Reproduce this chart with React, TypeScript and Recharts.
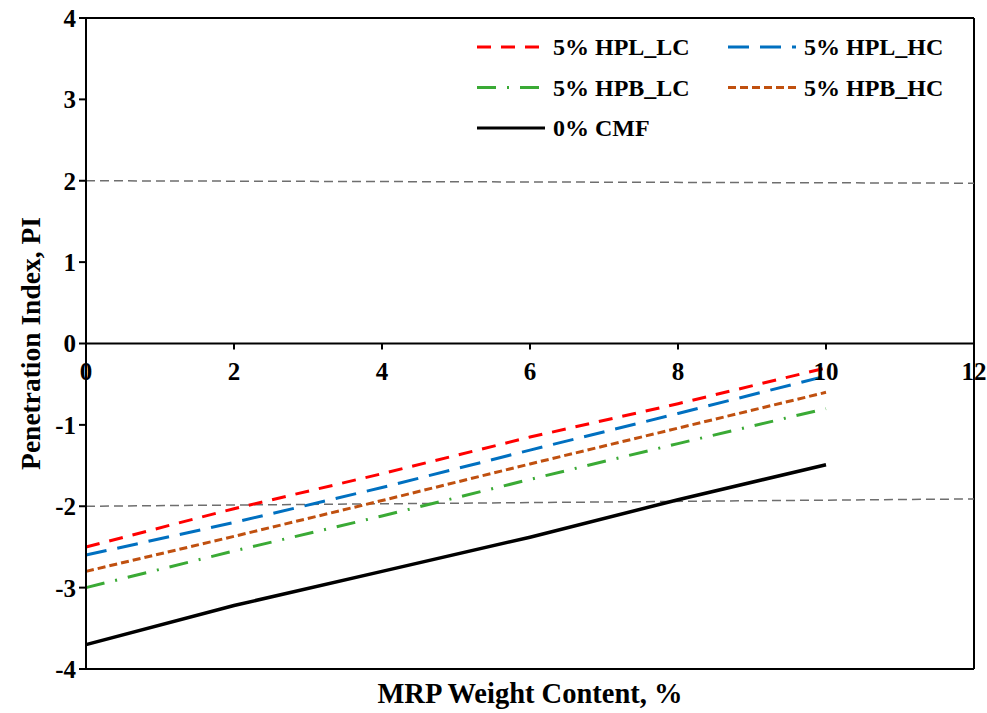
import React from "react";
import { LineChart, Line, XAxis, YAxis, ReferenceLine } from "recharts";

// ---- data ----
const mrpContent = [0, 2, 4, 6, 8, 10];
const hplLc = [-2.5, -2.03, -1.6, -1.15, -0.74, -0.3];
const hplHc = [-2.6, -2.2, -1.77, -1.31, -0.86, -0.4];
const hpbLc = [-3.0, -2.55, -2.12, -1.67, -1.23, -0.8];
const hpbHc = [-2.8, -2.37, -1.93, -1.48, -1.04, -0.6];
const cmf0 = [-3.7, -3.22, -2.8, -2.38, -1.92, -1.49];

const xTicks = [0, 2, 4, 6, 8, 10, 12];
const yTicks = [-4, -3, -2, -1, 0, 1, 2, 3, 4];
const upperLimitX = [0, 12];
const upperLimitY = [2, 1.97];
const lowerLimitY = [-2, -1.91];

const seriesNames = ["5% HPL_LC", "5% HPL_HC", "5% HPB_LC", "5% HPB_HC", "0% CMF"];
const seriesKeys = ["hplLc", "hplHc", "hpbLc", "hpbHc", "cmf0"];
const seriesColors = ["#ff0000", "#0070c0", "#3aaa35", "#c0500f", "#000000"];
const seriesDash = ["14 10", "21 11", "19 11 2 11", "8 4", undefined];

const data = mrpContent.map((x, i) => ({
  x,
  hplLc: hplLc[i],
  hplHc: hplHc[i],
  hpbLc: hpbLc[i],
  hpbHc: hpbHc[i],
  cmf0: cmf0[i],
}));

const FONT = '"Liberation Serif", "Times New Roman", serif';
const W = 987;
const H = 713;
const M_TOP = 18;
const X_AXIS_H = 44;
const PLOT_H = H - M_TOP - X_AXIS_H;
const ZERO_Y = M_TOP + PLOT_H / 2;

const ZeroTick = (props: any) => {
  const { x, payload } = props;
  return (
    <g>
      <line x1={x} x2={x} y1={ZERO_Y} y2={ZERO_Y + 6} stroke="#000" strokeWidth={2} />
      <text
        x={x}
        y={ZERO_Y + 36}
        textAnchor="middle"
        fontFamily={FONT}
        fontWeight="bold"
        fontSize={25}
        fill="#000"
      >
        {payload.value}
      </text>
    </g>
  );
};

const XTitle = (props: any) => {
  const vb = props.viewBox || {};
  return (
    <text
      x={vb.x + vb.width / 2}
      y={H - 10}
      textAnchor="middle"
      fontFamily={FONT}
      fontWeight="bold"
      fontSize={28.5}
      fill="#000"
    >
      MRP Weight Content, %
    </text>
  );
};

const YTitle = (props: any) => {
  const vb = props.viewBox || {};
  const cx = 30;
  const cy = vb.y + vb.height / 2;
  return (
    <text
      x={cx}
      y={cy}
      transform={`rotate(-90 ${cx} ${cy})`}
      textAnchor="middle"
      dominantBaseline="central"
      fontFamily={FONT}
      fontWeight="bold"
      fontSize={27.5}
      fill="#000"
    >
      Penetration Index, PI
    </text>
  );
};

const LegendBox = () => {
  const order = [0, 1, 2, 3, 4];
  return (
    <svg width={510} height={125} style={{ display: "block", overflow: "visible" }}>
      {order.map((i) => {
        const col = i % 2;
        const row = Math.floor(i / 2);
        const x0 = col === 0 ? 7 : 258;
        const lineLen = 68;
        const cy = 20 + row * 40.5;
        return (
          <g key={i}>
            <line
              x1={x0}
              x2={x0 + lineLen}
              y1={cy}
              y2={cy}
              stroke={seriesColors[i]}
              strokeWidth={3}
              strokeDasharray={seriesDash[i]}
            />
            <text
              x={x0 + lineLen + 8}
              y={cy}
              dominantBaseline="central"
              fontFamily={FONT}
              fontWeight="bold"
              fontSize={24}
              fill="#000"
            >
              {seriesNames[i]}
            </text>
          </g>
        );
      })}
    </svg>
  );
};

export default function App() {
  return (
    <div style={{ position: "absolute", left: 0, top: 0, width: W, height: H, background: "#fff" }}>
      <LineChart
        width={W}
        height={H}
        data={data}
        margin={{ top: M_TOP, right: 13, bottom: 0, left: 0 }}
      >
        <XAxis
          dataKey="x"
          type="number"
          domain={[0, 12]}
          ticks={xTicks}
          height={X_AXIS_H}
          axisLine={{ stroke: "#000", strokeWidth: 2 }}
          tickLine={false}
          tick={<ZeroTick />}
          interval={0}
          label={<XTitle />}
        />
        <YAxis
          type="number"
          domain={[-4, 4]}
          ticks={yTicks}
          width={86}
          axisLine={{ stroke: "#000", strokeWidth: 2 }}
          tickLine={{ stroke: "#000", strokeWidth: 2 }}
          tickSize={7}
          tickMargin={3}
          interval={0}
          tick={{ fontFamily: FONT, fontWeight: "bold", fontSize: 25, fill: "#000" }}
          label={<YTitle />}
        />
        <ReferenceLine y={4} stroke="#000" strokeWidth={2} />
        <ReferenceLine x={12} stroke="#000" strokeWidth={2} />
        <ReferenceLine y={0} stroke="#000" strokeWidth={2} />
        <ReferenceLine
          segment={[
            { x: upperLimitX[0], y: upperLimitY[0] },
            { x: upperLimitX[1], y: upperLimitY[1] },
          ]}
          stroke="#6e6e6e"
          strokeWidth={1.5}
          strokeDasharray="9 5"
        />
        <ReferenceLine
          segment={[
            { x: upperLimitX[0], y: lowerLimitY[0] },
            { x: upperLimitX[1], y: lowerLimitY[1] },
          ]}
          stroke="#6e6e6e"
          strokeWidth={1.5}
          strokeDasharray="9 5"
        />
        {seriesKeys.map((k, i) => (
          <Line
            key={k}
            type="linear"
            dataKey={k}
            name={seriesNames[i]}
            stroke={seriesColors[i]}
            strokeWidth={i === 4 ? 3.5 : 3}
            strokeDasharray={seriesDash[i]}
            dot={false}
            activeDot={false}
            isAnimationActive={false}
          />
        ))}
      </LineChart>
      <div style={{ position: "absolute", left: 470, top: 27, width: 510, height: 125 }}>
        <LegendBox />
      </div>
    </div>
  );
}
